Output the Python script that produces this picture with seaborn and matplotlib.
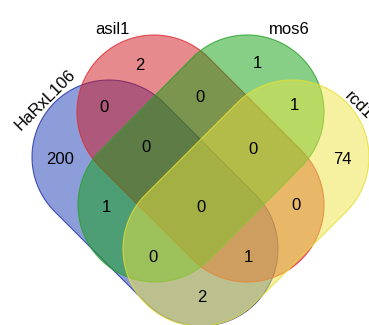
import numpy as np
import seaborn as sns
import matplotlib.pyplot as plt
from matplotlib.patches import Polygon

sets = ["HaRxL106", "asil1", "mos6", "rcd1"]
fills = ["#1a3cb4", "#d0161f", "#10a010", "#ece444"]
edges = ["#1f2fa8", "#e02a30", "#2aa02a", "#e6e030"]

# region label -> count (letters: H=HaRxL106, A=asil1, M=mos6, R=rcd1)
regions = ["H", "A", "M", "R", "HA", "AM", "MR", "HAM", "AMR", "HAMR",
           "HM", "AR", "HMR", "HAR", "HR"]
counts = [200, 2, 1, 74, 0, 0, 1, 0, 0, 0, 1, 0, 0, 1, 2]

# layout (pixel coordinates)
caps = [((109, 157), (201, 249)),
        ((154, 112), (247, 205)),
        ((247, 112), (155, 205)),
        ((292, 157), (200, 249))]
rad = 77
count_pos = {"H": (60, 160), "A": (140, 65), "M": (257, 63), "R": (342, 160),
             "HA": (104, 107), "AM": (200, 98), "MR": (294, 105),
             "HAM": (146, 148), "AMR": (253, 150), "HAMR": (201, 207),
             "HM": (106, 208), "AR": (296, 206), "HMR": (153, 257),
             "HAR": (248, 258), "HR": (202, 298)}
label_pos = [(45, 100, 45), (112, 29, 0), (289, 29, 0), (359, 105, -45)]


def capsule(c1, c2, r, n=80):
    c1 = np.array(c1, float)
    c2 = np.array(c2, float)
    th = np.arctan2(c2[1] - c1[1], c2[0] - c1[0])
    a2 = np.linspace(th - np.pi / 2, th + np.pi / 2, n)
    a1 = np.linspace(th + np.pi / 2, th + 3 * np.pi / 2, n)
    xs = np.concatenate([c2[0] + r * np.cos(a2), c1[0] + r * np.cos(a1)])
    ys = np.concatenate([c2[1] + r * np.sin(a2), c1[1] + r * np.sin(a1)])
    return np.column_stack([xs, ys])


sns.set_style("white")
plt.rcParams['font.family'] = ['Liberation Sans', 'DejaVu Sans']

fig = plt.figure(figsize=(3.69, 3.25), dpi=100)
ax = fig.add_axes([0, 0, 1, 1])
ax.set_xlim(0, 369)
ax.set_ylim(325, 0)
ax.axis("off")

for (c1, c2), fc, ec in zip(caps, fills, edges):
    pts = capsule(c1, c2, rad)
    ax.add_patch(Polygon(pts, closed=True, facecolor=fc, alpha=0.5, edgecolor="none"))
    ax.add_patch(Polygon(pts, closed=True, fill=False, edgecolor=ec, alpha=0.8, lw=0.8))

for reg, cnt in zip(regions, counts):
    x, y = count_pos[reg]
    ax.text(x, y, str(cnt), ha="center", va="center", fontsize=12, color="black")

for name, (x, y, rot) in zip(sets, label_pos):
    ax.text(x, y, name, ha="center", va="center", fontsize=12, rotation=rot,
            rotation_mode="anchor", color="black")

fig.savefig("out.png", dpi=100)
